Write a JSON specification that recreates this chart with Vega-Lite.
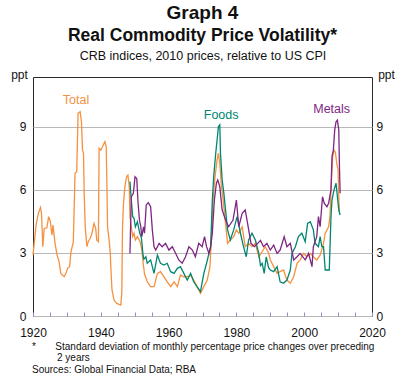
{
  "$schema": "https://vega.github.io/schema/vega-lite/v6.json",
  "width": 339,
  "height": 239,
  "autosize": "none",
  "padding": {"left": 33, "top": 77, "right": 30, "bottom": 68},
  "config": {
    "font": "Liberation Sans",
    "view": {"stroke": "#2b2b2b", "strokeWidth": 1},
    "axis": {"labelFont": "Liberation Sans", "titleFont": "Liberation Sans", "labelColor": "#111", "titleColor": "#111"}
  },
  "title": {
    "text": "Graph 4",
    "subtitle": "Real Commodity Price Volatility*",
    "fontSize": 19,
    "fontWeight": "bold",
    "color": "#111",
    "subtitleFontSize": 17.5,
    "subtitleFontWeight": "bold",
    "subtitleColor": "#111",
    "subtitlePadding": 4,
    "anchor": "middle",
    "offset": 5
  },
  "datasets": {
    "lines": [
      {"s":"Total","year":1920.0,"v":2.9},{"s":"Total","year":1920.9,"v":4.33},{"s":"Total","year":1921.6,"v":4.9},{"s":"Total","year":1922.2,"v":5.17},{"s":"Total","year":1922.5,"v":4.9},{"s":"Total","year":1922.9,"v":3.3},{"s":"Total","year":1923.3,"v":4.17},{"s":"Total","year":1924.1,"v":4.2},{"s":"Total","year":1924.6,"v":4.73},{"s":"Total","year":1925.1,"v":4.5},{"s":"Total","year":1925.6,"v":3.86},{"s":"Total","year":1925.9,"v":4.33},{"s":"Total","year":1926.5,"v":3.46},{"s":"Total","year":1927.1,"v":2.9},{"s":"Total","year":1927.7,"v":2.59},{"s":"Total","year":1928.2,"v":2.03},{"s":"Total","year":1929.2,"v":1.87},{"s":"Total","year":1929.7,"v":2.03},{"s":"Total","year":1930.2,"v":2.27},{"s":"Total","year":1930.8,"v":2.35},{"s":"Total","year":1931.2,"v":3.06},{"s":"Total","year":1931.9,"v":3.54},{"s":"Total","year":1932.2,"v":5.52},{"s":"Total","year":1932.4,"v":6.8},{"s":"Total","year":1932.9,"v":6.87},{"s":"Total","year":1933.3,"v":9.65},{"s":"Total","year":1933.9,"v":9.73},{"s":"Total","year":1934.3,"v":9.25},{"s":"Total","year":1934.6,"v":7.9},{"s":"Total","year":1934.9,"v":7.75},{"s":"Total","year":1935.1,"v":5.84},{"s":"Total","year":1935.4,"v":4.25},{"s":"Total","year":1935.9,"v":3.3},{"s":"Total","year":1936.3,"v":3.54},{"s":"Total","year":1936.9,"v":3.7},{"s":"Total","year":1937.4,"v":3.94},{"s":"Total","year":1938.0,"v":4.41},{"s":"Total","year":1938.5,"v":4.17},{"s":"Total","year":1938.8,"v":3.62},{"s":"Total","year":1939.3,"v":3.54},{"s":"Total","year":1939.5,"v":7.98},{"s":"Total","year":1940.0,"v":7.9},{"s":"Total","year":1940.5,"v":8.06},{"s":"Total","year":1941.2,"v":8.3},{"s":"Total","year":1941.6,"v":8.06},{"s":"Total","year":1942.0,"v":4.25},{"s":"Total","year":1942.5,"v":3.54},{"s":"Total","year":1942.8,"v":2.98},{"s":"Total","year":1943.0,"v":2.2},{"s":"Total","year":1943.3,"v":1.24},{"s":"Total","year":1943.9,"v":0.76},{"s":"Total","year":1944.7,"v":0.6},{"s":"Total","year":1945.9,"v":0.52},{"s":"Total","year":1946.2,"v":1.1},{"s":"Total","year":1946.4,"v":4.25},{"s":"Total","year":1946.7,"v":5.37},{"s":"Total","year":1947.1,"v":6.16},{"s":"Total","year":1947.6,"v":6.63},{"s":"Total","year":1948.0,"v":6.71},{"s":"Total","year":1948.4,"v":6.16},{"s":"Total","year":1948.6,"v":4.73},{"s":"Total","year":1949.0,"v":4.25},{"s":"Total","year":1949.4,"v":3.78},{"s":"Total","year":1949.8,"v":3.94},{"s":"Total","year":1950.2,"v":3.62},{"s":"Total","year":1950.8,"v":3.78},{"s":"Total","year":1951.6,"v":3.54},{"s":"Total","year":1952.1,"v":3.14},{"s":"Total","year":1952.5,"v":2.5},{"s":"Total","year":1952.9,"v":2.0},{"s":"Total","year":1953.7,"v":1.63},{"s":"Total","year":1954.7,"v":1.4},{"s":"Total","year":1955.7,"v":1.4},{"s":"Total","year":1956.7,"v":2.03},{"s":"Total","year":1957.6,"v":2.11},{"s":"Total","year":1958.6,"v":1.87},{"s":"Total","year":1959.6,"v":1.63},{"s":"Total","year":1960.6,"v":1.4},{"s":"Total","year":1961.6,"v":1.63},{"s":"Total","year":1962.6,"v":1.4},{"s":"Total","year":1963.5,"v":1.95},{"s":"Total","year":1964.5,"v":1.87},{"s":"Total","year":1965.5,"v":1.87},{"s":"Total","year":1966.5,"v":1.95},{"s":"Total","year":1967.4,"v":1.71},{"s":"Total","year":1968.4,"v":1.4},{"s":"Total","year":1969.4,"v":1.08},{"s":"Total","year":1970.4,"v":1.4},{"s":"Total","year":1971.4,"v":1.71},{"s":"Total","year":1972.2,"v":2.35},{"s":"Total","year":1972.6,"v":3.62},{"s":"Total","year":1973.1,"v":5.52},{"s":"Total","year":1973.7,"v":6.63},{"s":"Total","year":1974.3,"v":7.43},{"s":"Total","year":1974.7,"v":7.75},{"s":"Total","year":1975.1,"v":7.27},{"s":"Total","year":1975.5,"v":6.32},{"s":"Total","year":1976.1,"v":5.52},{"s":"Total","year":1976.8,"v":4.41},{"s":"Total","year":1977.4,"v":3.46},{"s":"Total","year":1978.2,"v":3.62},{"s":"Total","year":1979.2,"v":3.78},{"s":"Total","year":1980.0,"v":4.1},{"s":"Total","year":1980.7,"v":3.94},{"s":"Total","year":1981.7,"v":4.25},{"s":"Total","year":1982.6,"v":3.3},{"s":"Total","year":1983.6,"v":3.46},{"s":"Total","year":1984.6,"v":3.3},{"s":"Total","year":1985.6,"v":3.46},{"s":"Total","year":1986.6,"v":2.82},{"s":"Total","year":1987.6,"v":3.06},{"s":"Total","year":1988.5,"v":3.3},{"s":"Total","year":1989.5,"v":3.0},{"s":"Total","year":1990.0,"v":2.67},{"s":"Total","year":1991.0,"v":2.35},{"s":"Total","year":1992.0,"v":2.03},{"s":"Total","year":1992.9,"v":2.11},{"s":"Total","year":1993.9,"v":2.19},{"s":"Total","year":1994.9,"v":1.71},{"s":"Total","year":1995.9,"v":1.56},{"s":"Total","year":1996.9,"v":1.87},{"s":"Total","year":1997.9,"v":2.51},{"s":"Total","year":1998.8,"v":2.67},{"s":"Total","year":1999.8,"v":2.98},{"s":"Total","year":2000.8,"v":2.82},{"s":"Total","year":2001.8,"v":2.98},{"s":"Total","year":2002.7,"v":2.82},{"s":"Total","year":2003.7,"v":2.67},{"s":"Total","year":2004.7,"v":2.9},{"s":"Total","year":2005.7,"v":3.46},{"s":"Total","year":2006.2,"v":3.94},{"s":"Total","year":2007.2,"v":4.25},{"s":"Total","year":2007.6,"v":4.73},{"s":"Total","year":2008.0,"v":6.32},{"s":"Total","year":2008.4,"v":7.59},{"s":"Total","year":2008.8,"v":7.9},{"s":"Total","year":2009.2,"v":7.8},{"s":"Total","year":2009.6,"v":7.27},{"s":"Total","year":2010.0,"v":6.95},{"s":"Total","year":2010.2,"v":5.68},{"s":"Total","year":2010.4,"v":4.89},
      {"s":"Foods","year":1948.6,"v":6.4},{"s":"Foods","year":1949.0,"v":5.52},{"s":"Foods","year":1949.4,"v":4.73},{"s":"Foods","year":1949.8,"v":4.65},{"s":"Foods","year":1950.2,"v":4.25},{"s":"Foods","year":1950.8,"v":4.49},{"s":"Foods","year":1951.4,"v":4.01},{"s":"Foods","year":1952.0,"v":3.7},{"s":"Foods","year":1952.4,"v":2.98},{"s":"Foods","year":1952.7,"v":2.7},{"s":"Foods","year":1953.3,"v":2.82},{"s":"Foods","year":1953.7,"v":2.51},{"s":"Foods","year":1954.7,"v":2.67},{"s":"Foods","year":1955.7,"v":2.03},{"s":"Foods","year":1956.7,"v":2.9},{"s":"Foods","year":1957.6,"v":2.51},{"s":"Foods","year":1958.6,"v":2.43},{"s":"Foods","year":1959.6,"v":2.51},{"s":"Foods","year":1960.6,"v":2.11},{"s":"Foods","year":1961.6,"v":2.03},{"s":"Foods","year":1962.6,"v":2.27},{"s":"Foods","year":1963.5,"v":2.35},{"s":"Foods","year":1964.5,"v":2.03},{"s":"Foods","year":1965.5,"v":1.71},{"s":"Foods","year":1966.5,"v":2.03},{"s":"Foods","year":1967.4,"v":1.63},{"s":"Foods","year":1968.4,"v":1.4},{"s":"Foods","year":1969.4,"v":1.16},{"s":"Foods","year":1970.4,"v":2.03},{"s":"Foods","year":1971.2,"v":2.51},{"s":"Foods","year":1971.9,"v":2.98},{"s":"Foods","year":1972.4,"v":3.3},{"s":"Foods","year":1972.9,"v":5.52},{"s":"Foods","year":1973.3,"v":6.63},{"s":"Foods","year":1973.9,"v":7.75},{"s":"Foods","year":1974.3,"v":8.38},{"s":"Foods","year":1974.7,"v":9.02},{"s":"Foods","year":1975.1,"v":9.1},{"s":"Foods","year":1975.3,"v":7.75},{"s":"Foods","year":1975.8,"v":6.48},{"s":"Foods","year":1976.3,"v":5.84},{"s":"Foods","year":1976.8,"v":5.05},{"s":"Foods","year":1977.4,"v":4.1},{"s":"Foods","year":1978.2,"v":3.62},{"s":"Foods","year":1979.2,"v":4.1},{"s":"Foods","year":1980.2,"v":4.73},{"s":"Foods","year":1981.2,"v":3.94},{"s":"Foods","year":1982.1,"v":3.3},{"s":"Foods","year":1982.9,"v":2.82},{"s":"Foods","year":1983.6,"v":3.62},{"s":"Foods","year":1984.6,"v":3.94},{"s":"Foods","year":1985.6,"v":3.62},{"s":"Foods","year":1986.6,"v":2.98},{"s":"Foods","year":1987.1,"v":2.4},{"s":"Foods","year":1987.6,"v":2.51},{"s":"Foods","year":1988.2,"v":2.03},{"s":"Foods","year":1988.8,"v":2.82},{"s":"Foods","year":1989.5,"v":2.3},{"s":"Foods","year":1990.0,"v":2.19},{"s":"Foods","year":1991.0,"v":2.11},{"s":"Foods","year":1992.0,"v":2.35},{"s":"Foods","year":1992.9,"v":1.63},{"s":"Foods","year":1993.9,"v":1.56},{"s":"Foods","year":1994.9,"v":1.71},{"s":"Foods","year":1995.9,"v":2.19},{"s":"Foods","year":1996.4,"v":2.98},{"s":"Foods","year":1997.4,"v":3.3},{"s":"Foods","year":1998.3,"v":3.78},{"s":"Foods","year":1999.3,"v":3.94},{"s":"Foods","year":2000.3,"v":3.54},{"s":"Foods","year":2001.0,"v":4.41},{"s":"Foods","year":2001.8,"v":4.49},{"s":"Foods","year":2002.7,"v":4.1},{"s":"Foods","year":2003.2,"v":3.46},{"s":"Foods","year":2004.2,"v":3.3},{"s":"Foods","year":2004.7,"v":3.78},{"s":"Foods","year":2005.2,"v":3.3},{"s":"Foods","year":2005.7,"v":3.3},{"s":"Foods","year":2006.2,"v":2.19},{"s":"Foods","year":2006.7,"v":2.19},{"s":"Foods","year":2007.4,"v":2.19},{"s":"Foods","year":2007.9,"v":4.73},{"s":"Foods","year":2008.2,"v":5.52},{"s":"Foods","year":2008.8,"v":6.0},{"s":"Foods","year":2009.4,"v":6.32},{"s":"Foods","year":2009.8,"v":5.68},{"s":"Foods","year":2010.2,"v":5.05},{"s":"Foods","year":2010.6,"v":4.81},
      {"s":"Metals","year":1948.6,"v":2.98},{"s":"Metals","year":1949.0,"v":5.68},{"s":"Metals","year":1949.6,"v":5.84},{"s":"Metals","year":1950.1,"v":6.63},{"s":"Metals","year":1950.6,"v":6.55},{"s":"Metals","year":1951.0,"v":5.37},{"s":"Metals","year":1951.4,"v":4.57},{"s":"Metals","year":1951.8,"v":4.25},{"s":"Metals","year":1952.1,"v":3.78},{"s":"Metals","year":1952.6,"v":4.25},{"s":"Metals","year":1952.9,"v":3.94},{"s":"Metals","year":1953.4,"v":5.29},{"s":"Metals","year":1954.0,"v":5.4},{"s":"Metals","year":1954.7,"v":5.2},{"s":"Metals","year":1955.2,"v":4.1},{"s":"Metals","year":1955.7,"v":3.3},{"s":"Metals","year":1956.2,"v":3.14},{"s":"Metals","year":1957.2,"v":3.46},{"s":"Metals","year":1958.1,"v":3.3},{"s":"Metals","year":1959.1,"v":3.46},{"s":"Metals","year":1960.1,"v":3.14},{"s":"Metals","year":1961.1,"v":3.3},{"s":"Metals","year":1962.1,"v":2.98},{"s":"Metals","year":1963.0,"v":2.67},{"s":"Metals","year":1964.0,"v":2.51},{"s":"Metals","year":1965.0,"v":2.82},{"s":"Metals","year":1966.0,"v":3.3},{"s":"Metals","year":1967.0,"v":3.14},{"s":"Metals","year":1967.9,"v":2.82},{"s":"Metals","year":1968.9,"v":3.46},{"s":"Metals","year":1969.9,"v":3.3},{"s":"Metals","year":1970.6,"v":3.78},{"s":"Metals","year":1971.2,"v":3.3},{"s":"Metals","year":1971.9,"v":2.98},{"s":"Metals","year":1972.4,"v":3.3},{"s":"Metals","year":1972.9,"v":3.94},{"s":"Metals","year":1973.5,"v":5.52},{"s":"Metals","year":1974.1,"v":6.32},{"s":"Metals","year":1974.5,"v":6.48},{"s":"Metals","year":1975.1,"v":6.16},{"s":"Metals","year":1975.8,"v":5.05},{"s":"Metals","year":1976.8,"v":4.57},{"s":"Metals","year":1977.7,"v":4.25},{"s":"Metals","year":1979.0,"v":4.57},{"s":"Metals","year":1980.0,"v":5.52},{"s":"Metals","year":1980.7,"v":4.25},{"s":"Metals","year":1981.7,"v":4.89},{"s":"Metals","year":1982.6,"v":5.05},{"s":"Metals","year":1983.3,"v":4.41},{"s":"Metals","year":1984.3,"v":3.46},{"s":"Metals","year":1985.3,"v":3.3},{"s":"Metals","year":1986.3,"v":3.46},{"s":"Metals","year":1987.1,"v":3.6},{"s":"Metals","year":1988.0,"v":3.3},{"s":"Metals","year":1989.0,"v":3.46},{"s":"Metals","year":1990.0,"v":3.14},{"s":"Metals","year":1991.0,"v":3.38},{"s":"Metals","year":1992.0,"v":2.98},{"s":"Metals","year":1992.9,"v":3.14},{"s":"Metals","year":1994.1,"v":3.78},{"s":"Metals","year":1994.9,"v":3.3},{"s":"Metals","year":1995.9,"v":3.46},{"s":"Metals","year":1996.9,"v":2.67},{"s":"Metals","year":1997.9,"v":2.82},{"s":"Metals","year":1998.8,"v":2.98},{"s":"Metals","year":2000.3,"v":2.67},{"s":"Metals","year":2001.3,"v":2.98},{"s":"Metals","year":2002.3,"v":2.35},{"s":"Metals","year":2002.7,"v":3.3},{"s":"Metals","year":2003.7,"v":3.78},{"s":"Metals","year":2004.2,"v":4.73},{"s":"Metals","year":2004.7,"v":4.25},{"s":"Metals","year":2005.4,"v":5.68},{"s":"Metals","year":2005.9,"v":5.37},{"s":"Metals","year":2006.7,"v":5.2},{"s":"Metals","year":2007.2,"v":5.37},{"s":"Metals","year":2007.9,"v":6.0},{"s":"Metals","year":2008.2,"v":7.59},{"s":"Metals","year":2008.6,"v":7.9},{"s":"Metals","year":2009.0,"v":8.86},{"s":"Metals","year":2009.4,"v":9.25},{"s":"Metals","year":2009.8,"v":9.33},{"s":"Metals","year":2010.2,"v":8.86},{"s":"Metals","year":2010.4,"v":7.1},{"s":"Metals","year":2010.6,"v":5.84}
    ],
    "labels": [
      {"s":"Total","year":1932.7,"v":10.3},
      {"s":"Foods","year":1975.5,"v":9.57},
      {"s":"Metals","year":2008.1,"v":9.86}
    ]
  },
  "layer": [
    {
      "data": {"name": "lines"},
      "mark": {"type": "line", "strokeWidth": 1.3, "interpolate": "linear"},
      "encoding": {
        "x": {
          "field": "year", "type": "quantitative",
          "scale": {"domain": [1920, 2020], "nice": false, "zero": false},
          "axis": {
            "orient": "bottom",
            "values": [1920,1925,1930,1935,1940,1945,1950,1955,1960,1965,1970,1975,1980,1985,1990,1995,2000,2005,2010,2015,2020],
            "format": "d",
            "labelExpr": "datum.value % 20 == 0 ? datum.label : ''",
            "labelFontSize": 12,
            "labelPadding": 15,
            "tickSize": -4,
            "tickColor": "#8f8fc4",
            "tickWidth": 1,
            "domain": false,
            "grid": false,
            "labelFlush": false,
            "labelOverlap": false,
            "title": ["*\u00a0\u00a0\u00a0\u00a0\u00a0\u00a0\u00a0Standard deviation of monthly percentage price changes over preceding", "\u200b\u00a0\u00a0\u00a0\u00a0\u00a0\u00a0\u00a0\u00a0\u00a02 years", "Sources: Global Financial Data; RBA"],
            "titleFontSize": 10,
            "titleFontWeight": "normal",
            "titleAlign": "left",
            "titleAnchor": "start",
            "titleBaseline": "top",
            "titleLineHeight": 11.5,
            "titleX": -1.5,
            "titleY": 25
          }
        },
        "y": {
          "field": "v", "type": "quantitative",
          "scale": {"domain": [0, 11.38], "nice": false},
          "axis": {
            "orient": "left",
            "values": [0, 3, 6, 9],
            "labelFontSize": 12,
            "labelPadding": 7,
            "ticks": false,
            "domain": false,
            "grid": true,
            "gridColor": "#b8b8b8",
            "gridWidth": 1,
            "title": "ppt",
            "titleFontSize": 12,
            "titleFontWeight": "normal",
            "titleAngle": 0,
            "titleAlign": "center",
            "titleBaseline": "alphabetic",
            "titleX": -14,
            "titleY": 1
          }
        },
        "color": {
          "field": "s", "type": "nominal",
          "scale": {"domain": ["Total", "Foods", "Metals"], "range": ["#f5913f", "#00866f", "#7e2683"]},
          "legend": null
        }
      }
    },
    {
      "data": {"name": "labels"},
      "mark": {"type": "text", "fontSize": 12.5, "align": "center", "baseline": "middle"},
      "encoding": {
        "x": {
          "field": "year", "type": "quantitative",
          "scale": {"domain": [1920, 2020], "nice": false, "zero": false},
          "axis": {
            "orient": "top",
            "labels": false, "ticks": false, "domain": false, "grid": false,
            "title": "CRB indices, 2010 prices, relative to US CPI",
            "titleFontSize": 12.5,
            "titleFontWeight": "normal",
            "titleBaseline": "alphabetic",
            "titleY": -18
          }
        },
        "y": {
          "field": "v", "type": "quantitative",
          "scale": {"domain": [0, 11.38], "nice": false},
          "axis": {
            "orient": "right",
            "values": [0, 3, 6, 9],
            "labelFontSize": 12,
            "labelPadding": 4,
            "ticks": false,
            "domain": false,
            "grid": false,
            "title": "ppt",
            "titleFontSize": 12,
            "titleFontWeight": "normal",
            "titleAngle": 0,
            "titleAlign": "center",
            "titleBaseline": "alphabetic",
            "titleX": 14,
            "titleY": 1
          }
        },
        "text": {"field": "s", "type": "nominal"},
        "color": {"field": "s", "type": "nominal", "legend": null}
      }
    }
  ],
  "resolve": {
    "scale": {"x": "independent", "y": "independent"},
    "axis": {"x": "independent", "y": "independent"}
  }
}
